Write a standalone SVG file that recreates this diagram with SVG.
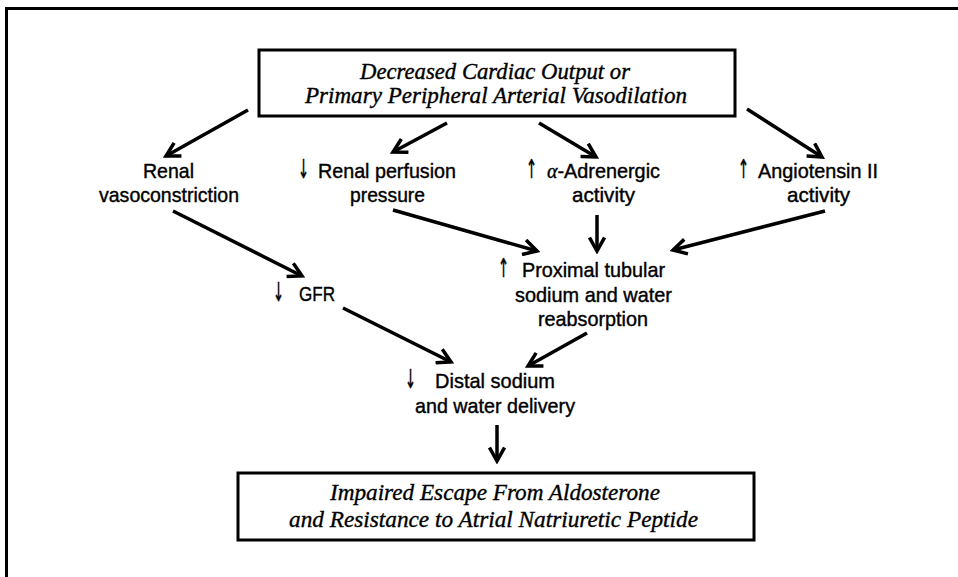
<svg xmlns="http://www.w3.org/2000/svg" width="958" height="577" viewBox="0 0 958 577">
<style>
.box{fill:#fff;stroke:#000;stroke-width:3}
.ser{font-family:"Liberation Serif","Times New Roman",serif;font-style:italic;font-size:24px;fill:#000;stroke:#000;stroke-width:0.4}
.ser2{font-family:"Liberation Serif","Times New Roman",serif;font-style:italic;font-size:23px;fill:#000;stroke:#000;stroke-width:0.35}
.sans{font-family:"Liberation Sans",Arial,sans-serif;font-size:21px;fill:#000;stroke:#000;stroke-width:0.4}
.sym{font-family:"DejaVu Sans",sans-serif;font-size:26px;fill:#000;stroke:#000;stroke-width:0.6}
.alpha{font-family:"Liberation Serif",serif;font-style:italic}
.conn line{stroke:#000;stroke-width:3.5;marker-end:url(#ah)}
</style>
<defs>
<marker id="ah" viewBox="0 0 18 18" refX="15" refY="9" markerWidth="18" markerHeight="18" markerUnits="userSpaceOnUse" orient="auto">
<path d="M1.5,1.5 L15,9 L1.5,16.5" fill="none" stroke="#000" stroke-width="3.5" stroke-linejoin="miter"/>
</marker>
</defs>
<rect x="0" y="0" width="958" height="577" fill="#fff"/>
<path d="M6.5,577 V8.5 H958" fill="none" stroke="#000" stroke-width="3"/>

<g id="top">
<rect class="box" x="259" y="50" width="476" height="66"/>
<text class="ser" x="360" y="79" textLength="270" lengthAdjust="spacingAndGlyphs">Decreased Cardiac Output or</text>
<text class="ser" x="305" y="103" textLength="382" lengthAdjust="spacingAndGlyphs">Primary Peripheral Arterial Vasodilation</text>
</g>

<g id="renal-vaso">
<text class="sans" x="143" y="178" textLength="51" lengthAdjust="spacingAndGlyphs">Renal</text>
<text class="sans" x="99" y="202" textLength="140" lengthAdjust="spacingAndGlyphs">vasoconstriction</text>
</g>

<g id="renal-perf">
<text class="sym" x="298" y="178" textLength="11" lengthAdjust="spacingAndGlyphs">↓</text>
<text class="sans" x="318" y="178" textLength="138" lengthAdjust="spacingAndGlyphs">Renal perfusion</text>
<text class="sans" x="350" y="202" textLength="75" lengthAdjust="spacingAndGlyphs">pressure</text>
</g>

<g id="alpha">
<text class="sym" x="526" y="178" textLength="11" lengthAdjust="spacingAndGlyphs">↑</text>
<text class="sans" x="547" y="178" textLength="113" lengthAdjust="spacingAndGlyphs"><tspan class="alpha">α</tspan>-Adrenergic</text>
<text class="sans" x="572" y="202" textLength="63" lengthAdjust="spacingAndGlyphs">activity</text>
</g>

<g id="angio">
<text class="sym" x="738" y="178" textLength="11" lengthAdjust="spacingAndGlyphs">↑</text>
<text class="sans" x="758" y="178" textLength="120" lengthAdjust="spacingAndGlyphs">Angiotensin II</text>
<text class="sans" x="787" y="202" textLength="63" lengthAdjust="spacingAndGlyphs">activity</text>
</g>

<g id="gfr">
<text class="sym" x="273" y="301" textLength="11" lengthAdjust="spacingAndGlyphs">↓</text>
<text class="sans" x="299" y="301" textLength="36" lengthAdjust="spacingAndGlyphs">GFR</text>
</g>

<g id="proximal">
<text class="sym" x="498" y="277" textLength="11" lengthAdjust="spacingAndGlyphs">↑</text>
<text class="sans" x="522" y="277" textLength="143" lengthAdjust="spacingAndGlyphs">Proximal tubular</text>
<text class="sans" x="515" y="302" textLength="157" lengthAdjust="spacingAndGlyphs">sodium and water</text>
<text class="sans" x="538" y="326" textLength="110" lengthAdjust="spacingAndGlyphs">reabsorption</text>
</g>

<g id="distal">
<text class="sym" x="405" y="388" textLength="11" lengthAdjust="spacingAndGlyphs">↓</text>
<text class="sans" x="435" y="388" textLength="120" lengthAdjust="spacingAndGlyphs">Distal sodium</text>
<text class="sans" x="415" y="413" textLength="160" lengthAdjust="spacingAndGlyphs">and water delivery</text>
</g>

<g id="bottom">
<rect class="box" x="238" y="473" width="516" height="67"/>
<text class="ser2" x="330" y="500" textLength="330" lengthAdjust="spacingAndGlyphs">Impaired Escape From Aldosterone</text>
<text class="ser2" x="289" y="527" textLength="409" lengthAdjust="spacingAndGlyphs">and Resistance to Atrial Natriuretic Peptide</text>
</g>

<g id="connectors" class="conn">
<line x1="248" y1="110" x2="166" y2="156"/>
<line x1="447" y1="123" x2="393" y2="152"/>
<line x1="539" y1="123" x2="596" y2="157"/>
<line x1="747" y1="109" x2="822" y2="157"/>
<line x1="173" y1="211" x2="302" y2="276"/>
<line x1="393" y1="210" x2="537" y2="251"/>
<line x1="597" y1="215" x2="597" y2="251"/>
<line x1="825" y1="211" x2="673" y2="250"/>
<line x1="343" y1="308" x2="451" y2="362"/>
<line x1="587" y1="333" x2="528" y2="366"/>
<line x1="497" y1="425" x2="497" y2="461"/>
</g>
</svg>
